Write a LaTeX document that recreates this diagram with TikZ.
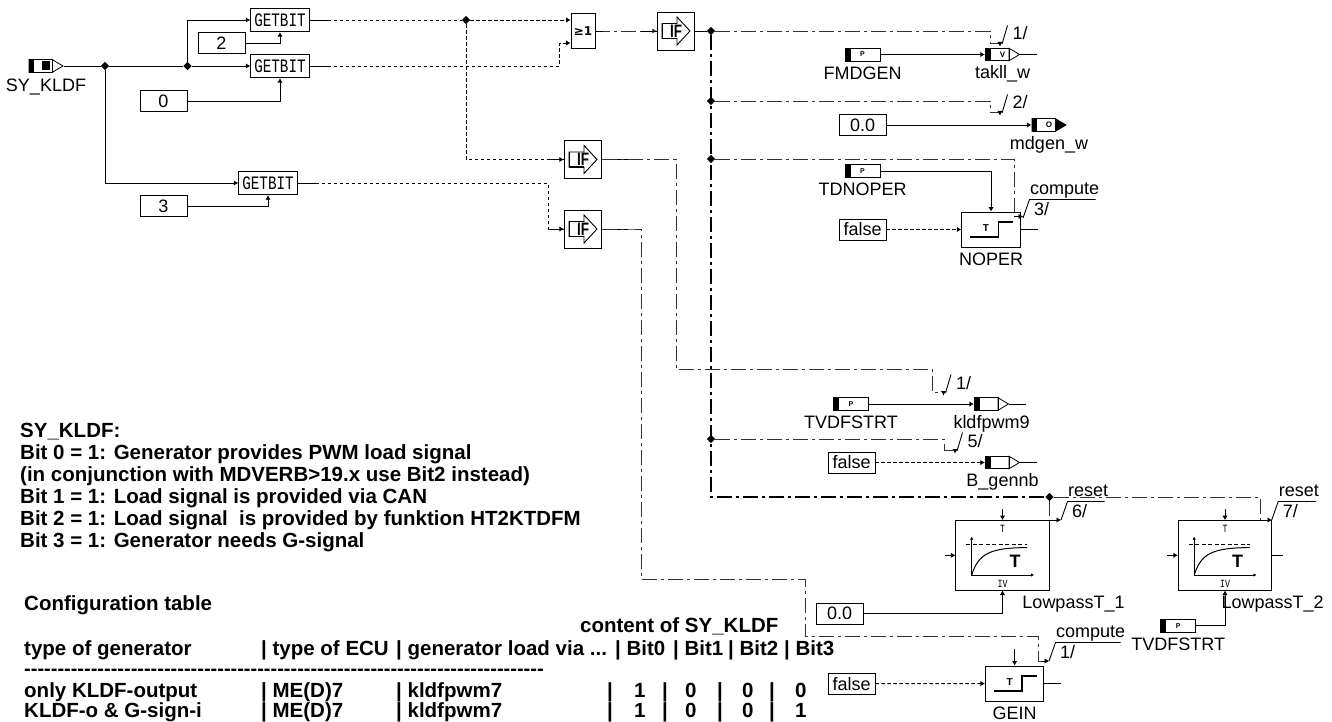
\documentclass[tikz,border=0pt]{standalone}
\usepackage{fontspec}
\setmainfont{Liberation Sans}
\newfontfamily\blockfont[FakeStretch=0.75]{Liberation Mono}
\newfontfamily\gatefont[FakeStretch=0.75]{Liberation Sans Bold}
\newfontfamily\symfont{DejaVu Sans}
\newfontfamily\rulefont{Liberation Sans Bold}
\newcommand{\labelsize}{\fontsize{18}{20}\selectfont}
\newcommand{\notesize}{\fontsize{20.5}{22}\selectfont\bfseries}
\usetikzlibrary{arrows.meta,positioning,shapes.geometric}

\begin{document}
\begin{tikzpicture}[
  x=1pt,y=-1pt,
  wire/.style={line width=0.9pt},
  tip/.style={-{Latex[length=4.5pt,width=5.5pt]}},
  dotwire/.style={wire,dash pattern=on 3.5pt off 2.5pt},
  dashwire/.style={wire,gray!40!black,dash pattern=on 15pt off 4pt on 3pt off 4pt},
  mainwire/.style={line width=1.6pt,dash pattern=on 15pt off 4pt on 3pt off 4pt},
  junction/.style={diamond,fill,inner sep=0pt,minimum size=8.5pt},
  signame/.style={inner sep=0pt,font=\labelsize,text height=13pt,text depth=3pt},
  constant/.style={draw,line width=0.9pt,minimum width=47pt,minimum height=21pt,inner sep=0pt,font=\labelsize},
  getbit/.style={draw,line width=0.9pt,minimum width=58.5pt,minimum height=23.5pt,inner sep=0pt,font=\blockfont\fontsize{19}{20}\selectfont},
  ifgate/.style={draw,line width=0.9pt,minimum width=37.5pt,minimum height=38pt,inner sep=0pt,
    path picture={\begin{scope}[shift={(path picture bounding box.center)}]
      \draw[line width=0.9pt] (-14,-7.5) -- (1,-7.5) -- (1,-14) -- (14,0) -- (1,14) -- (1,7.5) -- (-14,7.5) -- cycle;
      \draw[line width=1.6pt] (-13.5,-7.5) -- (-13.5,7.5) -- (1,7.5);
      \node[inner sep=0pt,font=\gatefont\fontsize{18}{20}\selectfont] at (0,0) {IF};
    \end{scope}}},
  param/.style={draw,line width=0.9pt,minimum width=35pt,minimum height=13pt,inner sep=0pt,font=\fontsize{7}{8}\selectfont\bfseries,
    path picture={\fill (path picture bounding box.south west) rectangle ([xshift=5.5pt]path picture bounding box.north west);}},
  port/.style={minimum width=35pt,minimum height=14pt,inner sep=0pt,
    path picture={\begin{scope}[shift={(path picture bounding box.center)}]
      \draw[line width=0.8pt,fill=#1] (6.5,-6.25) -- (17,0) -- (6.5,6.25) -- cycle;
      \draw[line width=0.8pt] (-17.5,-6.25) rectangle (6.5,6.25);
      \fill (-17.5,-6.5) rectangle (-12,6.5);
    \end{scope}}},
  portmark/.style={inner sep=0pt,font=\fontsize{8}{9}\selectfont\bfseries},
  stepblock/.style={draw,line width=0.9pt,minimum width=58.5pt,minimum height=35pt,inner sep=0pt,
    path picture={\begin{scope}[shift={(path picture bounding box.center)}]
      \draw[line width=1.5pt] (-20.7,7.7) -- (7.6,7.7) -- (7.6,-7.3) -- (22,-7.3);
      \node[font=\fontsize{10}{11}\selectfont\bfseries] at (-5,-1) {T};
    \end{scope}}},
  lowpass/.style={draw,line width=0.9pt,minimum width=93.5pt,minimum height=69.5pt,inner sep=0pt,
    path picture={\begin{scope}[shift={(path picture bounding box.center)}]
      \draw[line width=0.8pt,{Latex[length=3pt,width=3.5pt]}-{Latex[length=3pt,width=3.5pt]}] (-30.8,-18.6) -- (-30.8,19.7) -- (31.5,19.7);
      \draw[line width=0.8pt,dash pattern=on 4pt off 2.5pt] (-36.5,-11) -- (24.5,-11);
      \draw[line width=1pt] (-30.8,19.7) .. controls (-24,-2) and (-12,-7.5) .. (24.5,-7.7);
      \node[font=\fontsize{18}{20}\selectfont\bfseries] at (12.5,5.7) {T};
      \node[font=\blockfont\fontsize{11}{12}\selectfont] at (0,-26) {T};
      \node[font=\blockfont\fontsize{11}{12}\selectfont] at (0,28.5) {IV};
    \end{scope}}},
  note/.style={inner sep=0pt,font=\notesize}
]
\useasboundingbox (0,0) rectangle (1332,722);

% inputs and bit extraction
\node[port=white] (sykldf) at (46,66) {};
\fill ([xshift=14pt,yshift=-4.5pt]sykldf.west) rectangle ([xshift=22pt,yshift=4.5pt]sykldf.west);
\node[signame,below=5.5pt of sykldf] (sykldflabel) {SY\_KLDF};
\node[junction] (jsplit) at (105,66) {};
\node[junction] (jbits) at (187.5,66) {};
\node[getbit] (getbita) at (280,20) {GETBIT};
\node[getbit] (getbitb) at (280,66) {GETBIT};
\node[getbit] (getbitc) at (268,183) {GETBIT};
\node[constant] (conbita) at (221.5,43) {2};
\node[constant] (conbitb) at (163.5,101) {0};
\node[constant] (conbitc) at (163.5,206) {3};
\draw[wire] (sykldf.east) -- (jsplit);
\draw[wire] (jsplit) -- (jbits);
\draw[wire,tip] (jbits) -- (getbitb);
\draw[wire,tip] (jbits) |- (getbita);
\draw[wire,tip] (jsplit) |- (getbitc);
\draw[wire,tip] (conbita) -| (getbita.south);
\draw[wire,tip] (conbitb) -| (getbitb.south);
\draw[wire,tip] (conbitc) -| (getbitc.south);

% conditions
\node[junction] (jcond) at (466,20) {};
\node[draw,line width=0.9pt,minimum width=24pt,minimum height=35.5pt,inner sep=0pt,font=\symfont\fontsize{12}{13}\selectfont\bfseries] (orgate) at (583,31) {≥1};
\node[ifgate] (ifmain) at (676,31) {};
\node[ifgate] (ifpwm) at (583,159.5) {};
\node[ifgate] (ifsign) at (583,229) {};
\coordinate (orlower) at (559.7,43);
\coordinate (pwmbend) at (676,369);
\coordinate (signbend) at (641,579);
\draw[dotwire] (getbita) -- (jcond);
\draw[dotwire,tip] (jcond) -- (orgate.west|-jcond);
\draw[dotwire,tip] (getbitb) -| (orlower) -- (orgate.west|-orlower);
\draw[dotwire,tip] (jcond) |- (ifpwm);
\draw[dotwire,tip] (getbitc) -| (548,229) -- (ifsign);
\draw[dashwire,tip] (orgate.east|-ifmain) -- (ifmain);
\foreach \blk/\len in {getbita/19,getbitb/19,getbitc/19,orgate/8,ifpwm/26,ifsign/26}
  \draw[wire] (\blk.east) -- ++(\len,0);
\foreach \blk in {ifpwm,ifsign,ifmain}
  \draw[wire] ([xshift=-16pt]\blk.west) -- (\blk.west);

% enable spine
\node[junction] (jtakt) at (711,31) {};
\node[junction] (jgen) at (711,101) {};
\node[junction] (jnoper) at (711,159) {};
\node[junction] (jgennb) at (711,439) {};
\node[junction] (jreset) at (1049.5,497) {};
\draw[wire] (ifmain) -- (jtakt);
\draw[mainwire] (jtakt) -- (711,497) -- (jreset);

% outputs, top group
\node[param] (fmdgen) at (862.5,54.5) {P};
\node[signame,below=4.5pt of fmdgen] (fmdgenlabel) {FMDGEN};
\node[port=white] (takllw) at (1002.5,54.5) {};
\node[portmark] (takllwmark) at (takllw) {V};
\node[signame,below=4pt of takllw] (takllwlabel) {takll\_w};
\node[constant] (congen) at (862.5,125) {0.0};
\node[port=black] (mdgenw) at (1049,125) {};
\node[portmark] (mdgenwmark) at (mdgenw) {O};
\node[signame,below=4pt of mdgenw] (mdgenwlabel) {mdgen\_w};
\node[param] (tdnoper) at (862.5,171) {P};
\node[signame,below=4.5pt of tdnoper] (tdnoperlabel) {TDNOPER};
\node[constant] (connoper) at (862.5,229.5) {false};
\node[stepblock] (noper) at (991,229.5) {};
\node[signame,below=4.5pt of noper] (noperlabel) {NOPER};
\draw[wire,tip] (fmdgen) -- (takllw);
\draw[wire] (takllw.east) -- ++(17,0);
\draw[wire,tip] (congen) -- (mdgenw);
\draw[wire,tip] (tdnoper) -| (noper.north);
\draw[dotwire,tip] (connoper) -- (noper);
\draw[wire] (noper.east) -- ++(17,0);
\draw[dashwire] (jtakt) -- (990,31) |- (1000,43);
\draw[wire,tip] (1000,43) -- (1000,46.5);
\draw[dashwire] (jgen) -- (990,101) |- (1000,112);
\draw[wire,tip] (1000,112) -- (1000,115.5);
\draw[dashwire] (jnoper) -- (1014,159) -- (1014,216.5);
\draw[wire,tip] (1014,216.5) -- (1023,216.5);

% outputs, middle group
\node[param] (tvdfa) at (851,404) {P};
\node[signame,below=4.5pt of tvdfa] (tvdfalabel) {TVDFSTRT};
\node[port=white] (kldfpwm) at (991.5,404) {};
\node[signame,below=4pt of kldfpwm] (kldfpwmlabel) {kldfpwm9};
\node[constant] (congennb) at (851.5,462.5) {false};
\node[port=white] (genb) at (1002.5,462.5) {};
\node[signame,below=4pt of genb] (genblabel) {B\_gennb};
\draw[wire,tip] (tvdfa) -- (kldfpwm);
\draw[wire] (kldfpwm.east) -- ++(17,0);
\draw[dotwire,tip] (congennb) -- (genb);
\draw[wire] (genb.east) -- ++(17,0);
\draw[dashwire] (ifpwm.east) -- ++(26,0) -| (pwmbend) -- (932,369) |- (943.5,392);
\draw[wire,tip] (943.5,392) -- (943.5,395.5);
\draw[dashwire] (jgennb) -- (944.6,439) |- (955,450);
\draw[wire,tip] (955,450) -- (955,453.5);

% lowpass filters
\node[lowpass] (lowpassa) at (1002.5,555.3) {};
\node[signame] (lowpassalabel) at (1073.5,603) {LowpassT\_1};
\node[lowpass] (lowpassb) at (1225,555.3) {};
\node[signame] (lowpassblabel) at (1272.7,603) {LowpassT\_2};
\node[constant] (conlow) at (839.5,613.5) {0.0};
\node[param] (tvdfb) at (1178.2,625.7) {P};
\node[signame,below=4.5pt of tvdfb] (tvdfblabel) {TVDFSTRT};
\coordinate (resetend) at (1260,497);
\draw[wire,tip] (conlow) -| (lowpassa.south);
\draw[wire,tip] (tvdfb) -| (lowpassb.south);
\draw[wire,tip] (1002.5,509) -- (lowpassa.north);
\draw[wire,tip] (1225,509) -- (lowpassb.north);
\draw[wire,tip] (945,555.3) -- (lowpassa.west);
\draw[wire,tip] (1167,555.3) -- (lowpassb.west);
\draw[wire] (lowpassb.east) -- ++(11,0);
\draw[dashwire] (jreset) -- (resetend) -- (1260,520);
\draw[wire,tip] (1260,520) -- (1272,520);
\draw[dashwire] (jreset) -- (1049.5,520);
\draw[wire,tip] (1049.5,520) -- (1061,520);

% generator input
\node[constant] (congein) at (851.5,683.7) {false};
\node[stepblock] (gein) at (1014.6,683.5) {};
\node[signame,below=4.5pt of gein] (geinlabel) {GEIN};
\draw[dotwire,tip] (congein) -- (gein);
\draw[wire,tip] (1014.6,649) -- (gein.north);
\draw[wire] (gein.east) -- ++(17,0);
\draw[dashwire] (ifsign.east) -- ++(26,0) -| (signbend) -- (805,579) -- (805,636.7) -- (1038.3,636.7) |- (1048,661);
\draw[wire,tip] (1041,661) -- (1049,661);

% trigger marks
\foreach \tx/\ty/\tid/\tnum in {1002/44/takt/1,1002/113/gen/2,945.5/393/pwm/1,957/451/gennb/5}{
  \coordinate (slash\tid) at (\tx,\ty);
  \draw[wire] (slash\tid) -- ++(5.5,-18.5);
  \node[signame,anchor=west] (mark\tid) at ([shift={(10.5,-9)}]slash\tid) {\tnum/};
}
\foreach \tx/\ty/\tlen/\tid/\tword/\tnum in {1023/218/66/noper/compute/3,1061/520/37/reseta/reset/6,1271.7/520/38/resetb/reset/7,1049/661/65/gein/compute/1}{
  \coordinate (bar\tid) at (\tx,\ty);
  \draw[wire] (bar\tid) -- ++(6.5,-18.5) -- ++(\tlen,0);
  \node[signame,anchor=west] (num\tid) at ([shift={(11,-8)}]bar\tid) {\tnum/};
  \node[signame,anchor=west] (word\tid) at ([shift={(7,-28.5)}]bar\tid) {\tword};
}

% remarks
\node[note,anchor=north west,align=left] (bitnote) at (20,423) {SY\_KLDF:\\
Bit 0 = 1: Generator provides PWM load signal\\
(in conjunction with MDVERB>19.x use Bit2 instead)\\
Bit 1 = 1: Load signal is provided via CAN\\
Bit 2 = 1: Load signal\ \ is provided by funktion HT2KTDFM\\
Bit 3 = 1: Generator needs G-signal};
\node[note,anchor=base west] (tabletitle) at (24,610) {Configuration table};
\node[note,anchor=base west] (tablecontent) at (580,632) {content of SY\_KLDF};
\node[note,anchor=base west] (headc) at (396,655) {| generator load via ...};
\foreach \cx/\ctext/\cid in {24/type of generator/a,261/| type of ECU/b,615/| Bit0/d,673/| Bit1/e,728/| Bit2/f,784/| Bit3/g}
  \node[note,anchor=base west] (head\cid) at (\cx,655) {\ctext};
\node[note,anchor=base west,font=\rulefont\fontsize{20}{22}\selectfont] (tablerule) at (24,675) {------------------------------------------------------------------------------};
\foreach \ry/\rname/\rid/\rlast in {697.5/only KLDF-output/a/0,717.5/KLDF-o \& G-sign-i/b/1}{
  \node[note,anchor=base west] (name\rid) at (24,\ry) {\rname};
  \node[note,anchor=base west] (ecu\rid) at (261,\ry) {| ME(D)7};
  \node[note,anchor=base west] (load\rid) at (396,\ry) {| kldfpwm7};
  \foreach \cx/\ctext/\cid in {607/|/a,634/1/b,662/|/c,685/0/d,717/|/e,742/0/f,769/|/g}
    \node[note,anchor=base west] (cell\rid\cid) at (\cx,\ry) {\ctext};
  \node[note,anchor=base west] (last\rid) at (795,\ry) {\rlast};
}
\end{tikzpicture}
\end{document}
